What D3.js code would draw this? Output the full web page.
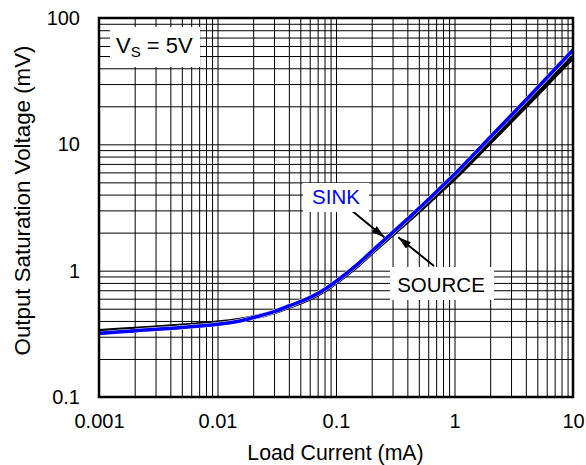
<!DOCTYPE html>
<html>
<head>
<meta charset="utf-8">
<script src="https://cdn.jsdelivr.net/npm/d3@7"></script>
<style>
  body { margin: 0; background: #fff; }
  text { font-family: "Liberation Sans", Arial, sans-serif; }
</style>
</head>
<body>
<svg id="chart" width="586" height="465"></svg>
<script>
// load current (mA)
const current = [0.001, 0.002, 0.005, 0.01, 0.015, 0.02, 0.03, 0.04, 0.06, 0.08, 0.1, 0.15, 0.2, 0.3, 0.5, 0.7, 1, 2, 5, 10];
// output saturation voltage (mV)
const sink   = [0.319, 0.334, 0.355, 0.377, 0.398, 0.425, 0.474, 0.525, 0.612, 0.71, 0.82, 1.11, 1.42, 2.0, 3.1, 4.2, 5.8, 11.39, 27.95, 55.9];
const source = [0.331, 0.346, 0.366, 0.387, 0.405, 0.426, 0.470, 0.519, 0.603, 0.70, 0.807, 1.09, 1.39, 1.94, 2.96, 3.96, 5.4, 10.4, 25.0, 49.2];

const xTicks = [0.001, 0.01, 0.1, 1, 10];
const xTickLabels = ["0.001", "0.01", "0.1", "1", "10"];
const yTicks = [0.1, 1, 10, 100];
const yTickLabels = ["0.1", "1", "10", "100"];

const margin = { top: 18, right: 13, bottom: 68, left: 99 };
const W = 586, H = 465;
const width = W - margin.left - margin.right;
const height = H - margin.top - margin.bottom;

const svg = d3.select("#chart");
const g = svg.append("g").attr("transform", `translate(${margin.left},${margin.top})`);

const x = d3.scaleLog().domain([0.001, 10]).range([0, width]);
const y = d3.scaleLog().domain([0.1, 100]).range([height, 0]);

// grid
g.append("g")
  .attr("class", "grid")
  .attr("transform", `translate(0,${height})`)
  .call(d3.axisBottom(x).tickValues(x.ticks()).tickSize(-height).tickFormat(""))
  .call(s => s.select(".domain").remove())
  .call(s => s.selectAll("line").attr("stroke", "#000").attr("stroke-width", 1));

g.append("g")
  .attr("class", "grid")
  .call(d3.axisLeft(y).tickValues(y.ticks()).tickSize(-width).tickFormat(""))
  .call(s => s.select(".domain").remove())
  .call(s => s.selectAll("line").attr("stroke", "#000").attr("stroke-width", 1));

// tick labels
g.append("g")
  .attr("transform", `translate(0,${height})`)
  .call(d3.axisBottom(x).tickValues(xTicks).tickSize(0).tickPadding(16.5)
    .tickFormat((d, i) => xTickLabels[i]))
  .call(s => s.select(".domain").remove())
  .call(s => s.selectAll("text").attr("font-size", 20).attr("fill", "#000")
    .attr("font-family", "Liberation Sans, Arial, sans-serif"));

g.append("g")
  .call(d3.axisLeft(y).tickValues(yTicks).tickSize(0).tickPadding(19)
    .tickFormat((d, i) => yTickLabels[i]))
  .call(s => s.select(".domain").remove())
  .call(s => s.selectAll("text").attr("font-size", 20).attr("fill", "#000")
    .attr("font-family", "Liberation Sans, Arial, sans-serif"));

// VS label box
g.append("rect").attr("x", 11).attr("y", 9).attr("width", 90).attr("height", 40).attr("fill", "#fff");
const vs = g.append("text").attr("x", 17).attr("y", 35).attr("font-size", 22).attr("fill", "#000");
vs.append("tspan").text("V");
vs.append("tspan").attr("font-size", 15).attr("dy", 4).text("S");
vs.append("tspan").attr("dy", -4).text(" = 5V");

// curves
const line = d3.line()
  .x(d => x(d[0]))
  .y(d => y(d[1]))
  .curve(d3.curveCatmullRom.alpha(0.5));

const sourcePts = current.map((c, i) => [c, source[i]]);
const sinkPts = current.map((c, i) => [c, sink[i]]);

g.append("path").datum(sourcePts).attr("d", line)
  .attr("fill", "none").attr("stroke", "#000").attr("stroke-width", 4.5);
g.append("path").datum(sinkPts).attr("d", line)
  .attr("fill", "none").attr("stroke", "#fff").attr("stroke-width", 4.4);
g.append("path").datum(sinkPts).attr("d", line)
  .attr("fill", "none").attr("stroke", "#0000ff").attr("stroke-width", 3.6);

// annotations (page pixel coords)
const defs = svg.append("defs");
defs.append("marker")
  .attr("id", "arrow")
  .attr("viewBox", "0 0 13 8")
  .attr("refX", 13).attr("refY", 4)
  .attr("markerWidth", 13).attr("markerHeight", 8)
  .attr("markerUnits", "userSpaceOnUse")
  .attr("orient", "auto")
  .append("path").attr("d", "M0,0 L13,4 L0,8 Z").attr("fill", "#000");

const ann = svg.append("g");
ann.append("line").attr("x1", 351).attr("y1", 210).attr("x2", 384.3).attr("y2", 237.3)
  .attr("stroke", "#000").attr("stroke-width", 2).attr("marker-end", "url(#arrow)");
ann.append("line").attr("x1", 434).attr("y1", 266).attr("x2", 398.3).attr("y2", 237.3)
  .attr("stroke", "#000").attr("stroke-width", 2).attr("marker-end", "url(#arrow)");

ann.append("rect").attr("x", 303).attr("y", 183).attr("width", 66).attr("height", 29).attr("fill", "#fff");
ann.append("text").attr("x", 336).attr("y", 204).attr("text-anchor", "middle")
  .attr("font-size", 20.5).attr("fill", "#0000ff").text("SINK");

ann.append("rect").attr("x", 390).attr("y", 267).attr("width", 104).attr("height", 33).attr("fill", "#fff");
ann.append("text").attr("x", 441).attr("y", 292).attr("text-anchor", "middle")
  .attr("font-size", 20.5).attr("fill", "#000").text("SOURCE");

// frame
g.append("rect").attr("width", width).attr("height", height)
  .attr("fill", "none").attr("stroke", "#000").attr("stroke-width", 2.5);

// axis titles
svg.append("text")
  .attr("x", 335.5).attr("y", 460)
  .attr("text-anchor", "middle").attr("font-size", 21.3).attr("fill", "#000")
  .text("Load Current (mA)");

svg.append("text")
  .attr("transform", "translate(30,200.5) rotate(-90)")
  .attr("text-anchor", "middle").attr("font-size", 22.3).attr("fill", "#000")
  .text("Output Saturation Voltage (mV)");
</script>
</body>
</html>
